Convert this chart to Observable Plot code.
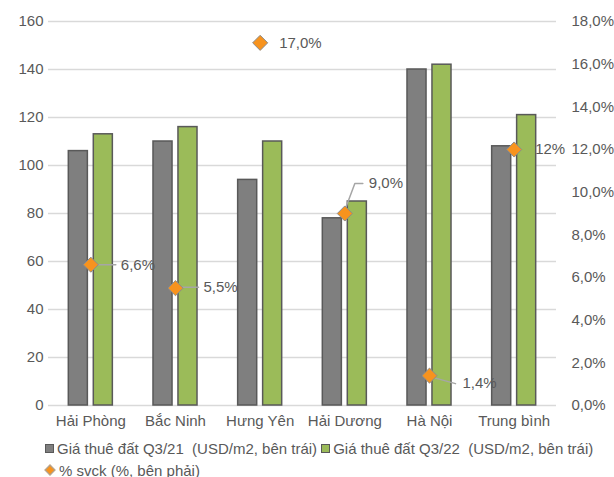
<!DOCTYPE html>
<html>
<head>
<meta charset="utf-8">
<script src="https://cdn.jsdelivr.net/npm/d3@7"></script>
<script src="https://cdn.jsdelivr.net/npm/@observablehq/plot@0.6"></script>
<style>
  html, body { margin: 0; padding: 0; background: #fff; }
  body { width: 614px; font-family: "Liberation Sans", Arial, sans-serif; color: #595959; }
  #legend { font-size: 15px; margin-top: 5px; }
  .row { display: flex; align-items: center; height: 22px; white-space: pre; }
  .sq { width: 7px; height: 7px; border: 1px solid #595959; display: inline-block; margin-right: 3px; }
  .dm { width: 6px; height: 6px; background: #f7931e; border: 0.5px solid #a6a6a6; transform: rotate(45deg); display: inline-block; margin: 0 5px 0 2px; }
</style>
</head>
<body>
<div id="chart"></div>
<div id="legend"></div>
<script>
const categories = ["Hải Phòng", "Bắc Ninh", "Hưng Yên", "Hải Dương", "Hà Nội", "Trung bình"];
const q321 = [106, 110, 94, 78, 140, 108];
const q322 = [113, 116, 110, 85, 142, 121];
const pct = [6.6, 5.5, 17.0, 9.0, 1.4, 12];
const pctLabels = ["6,6%", "5,5%", "17,0%", "9,0%", "1,4%", "12%"];
const leftTicks = [0, 20, 40, 60, 80, 100, 120, 140, 160];
const rightTicks = [0, 2, 4, 6, 8, 10, 12, 14, 16, 18];
const seriesNames = ["Giá thuê đất Q3/21  (USD/m2, bên trái)", "Giá thuê đất Q3/22  (USD/m2, bên trái)", "% svck (%, bên phải)"];

// layout / style
const W = 614, H = 432, mL = 48, mR = 58, mT = 21, mB = 27;
const yMax = 160, pMax = 18;
const toLeft = p => p / pMax * yMax;
const kx = (W - mL - mR) / categories.length;   // px per category unit
const ky = (H - mT - mB) / yMax;                 // px per left unit
const barW = 0.225, gap = 0.035;
const colors = {q321: "#7f7f7f", q322: "#9bbb59", dot: "#f7931e"};

// label placement (pixel offsets from the diamond)
const placement = [
  {leader: [[3, 0], [25, 0]], text: [30, 0]},
  {leader: [[3, -1], [23, -1]], text: [28, -1]},
  {leader: null, text: [19, 0]},
  {leader: [[1, -6], [10, -30], [18, -30]], text: [24, -30]},
  {leader: [[4, 2], [26, 8]], text: [33, 8]},
  {leader: null, text: [21, 0]}
];
const offX = (i, dx) => i + dx / kx;
const offY = (i, dy) => toLeft(pct[i]) - dy / ky;

const bars = categories.flatMap((c, i) => [
  {i, x1: i - gap - barW, x2: i - gap, v: q321[i], s: "q321"},
  {i, x1: i + gap, x2: i + gap + barW, v: q322[i], s: "q322"}
]);
const dots = categories.map((c, i) => ({i, y: toLeft(pct[i])}));
const labels = categories.map((c, i) => ({
  x: offX(i, placement[i].text[0]), y: offY(i, placement[i].text[1]), label: pctLabels[i]}));
const leaders = [];
placement.forEach((p, i) => {
  if (!p.leader) return;
  p.leader.forEach(([dx, dy]) => leaders.push({k: i, x: offX(i, dx), y: offY(i, dy)}));
});

const chart = Plot.plot({
  width: W, height: H,
  marginLeft: mL, marginRight: mR, marginTop: mT, marginBottom: mB,
  style: {fontFamily: '"Liberation Sans", Arial, sans-serif', fontSize: "15px", color: "#595959", background: "#fff"},
  x: {type: "linear", domain: [-0.5, categories.length - 0.5], axis: null},
  y: {domain: [0, yMax], axis: null},
  marks: [
    Plot.gridY(leftTicks, {stroke: "#d9d9d9", strokeOpacity: 1, strokeWidth: 1.3}),
    Plot.axisY({anchor: "left", ticks: leftTicks, tickSize: 0, tickPadding: 5, fontSize: 15, fill: "#595959"}),
    Plot.axisY({anchor: "right", ticks: rightTicks.map(toLeft), tickSize: 0, tickPadding: 15, fontSize: 15, fill: "#595959",
      tickFormat: v => (v / yMax * pMax).toFixed(1).replace(".", ",") + "%"}),
    Plot.axisX({ticks: categories.map((c, i) => i), tickFormat: i => categories[i], tickSize: 0, tickPadding: 10, fontSize: 15, fill: "#595959"}),
    Plot.rectY(bars, {x1: "x1", x2: "x2", y1: 0, y2: "v", fill: d => colors[d.s], stroke: "#595959", strokeWidth: 1.5}),
    Plot.line(leaders, {x: "x", y: "y", z: "k", stroke: "#a6a6a6", strokeWidth: 1.5}),
    Plot.dot(dots, {x: "i", y: "y", symbol: "diamond2", r: 6.8, fill: colors.dot, stroke: "#8c8c8c", strokeWidth: 1}),
    Plot.text(labels, {x: "x", y: "y", text: "label", textAnchor: "start", fontSize: 15, fill: "#595959"})
  ]
});
document.getElementById("chart").appendChild(chart);

const lg = document.getElementById("legend");
lg.innerHTML = `
  <div class="row" style="padding-left:45px">
    <span class="sq" style="background:${colors.q321}"></span><span>${seriesNames[0]}</span><span class="sq" style="background:${colors.q322};margin-left:4px"></span><span>${seriesNames[1]}</span>
  </div>
  <div class="row" style="padding-left:44px">
    <span class="dm"></span><span>${seriesNames[2]}</span>
  </div>`;
</script>
</body>
</html>
